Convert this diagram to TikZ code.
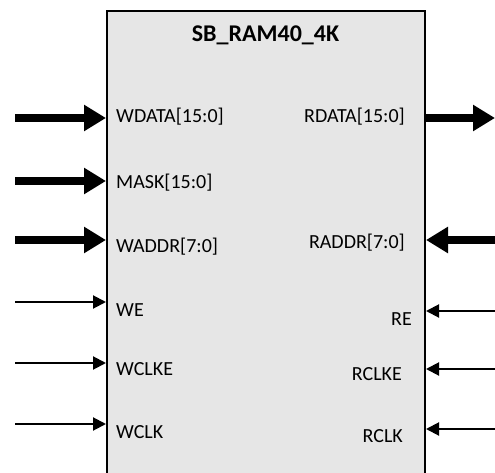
\documentclass[tikz,border=0pt]{standalone}
\usepackage{fontspec}
\setmainfont{Carlito}
\usetikzlibrary{arrows.meta}
\definecolor{boxfill}{RGB}{230,230,230}
\begin{document}
\begin{tikzpicture}[x=1pt,y=-1pt,
  bus/.style={line width=8pt,-{Triangle[length=22pt,width=25pt]}},
  sig/.style={line width=2pt,-{Triangle[length=13pt,width=13pt]}},
  lbl/.style={font=\fontsize{20}{22}\selectfont,inner sep=0pt},
  lpin/.style={lbl,anchor=base west},
  rpin/.style={lbl,anchor=base east}]
\useasboundingbox (0,0) rectangle (495,473);
\node[draw,line width=2pt,fill=boxfill,minimum width=318pt,minimum height=490pt,
      anchor=north west,inner sep=0pt] (box) at (106,10) {};
\node[font=\bfseries\fontsize{24}{26}\selectfont,anchor=base,inner sep=0pt] (title) at (265.5,42) {SB\_RAM40\_4K};
% left pins
\coordinate (wdataS) at (15,118);
\coordinate (maskS) at (15,181);
\coordinate (waddrS) at (15,240);
\coordinate (weS) at (15,302);
\coordinate (wclkeS) at (15,363);
\coordinate (wclkS) at (15,424);
\draw[bus] (wdataS) -- (wdataS -| box.west);
\draw[bus] (maskS) -- (maskS -| box.west);
\draw[bus] (waddrS) -- (waddrS -| box.west);
\draw[sig] (weS) -- (weS -| box.west);
\draw[sig] (wclkeS) -- (wclkeS -| box.west);
\draw[sig] (wclkS) -- (wclkS -| box.west);
% right pins
\coordinate (rdataE) at (495,118);
\coordinate (raddrS) at (495,240);
\coordinate (reS) at (495,311);
\coordinate (rclkeS) at (495,369);
\coordinate (rclkS) at (495,429);
\draw[bus] (rdataE -| box.east) -- (rdataE);
\draw[bus] (raddrS) -- (raddrS -| box.east);
\draw[sig] (reS) -- (reS -| box.east);
\draw[sig] (rclkeS) -- (rclkeS -| box.east);
\draw[sig] (rclkS) -- (rclkS -| box.east);
% labels
\node[lpin] (lwdata) at (116,123) {WDATA[15:0]};
\node[lpin] (lmask) at (116,189) {MASK[15:0]};
\node[lpin] (lwaddr) at (116,252) {WADDR[7:0]};
\node[lpin] (lwe) at (116,316) {WE};
\node[lpin] (lwclke) at (116,375) {WCLKE};
\node[lpin] (lwclk) at (116,438) {WCLK};
\node[rpin] (lrdata) at (405,123) {RDATA[15:0]};
\node[rpin] (lraddr) at (405,248) {RADDR[7:0]};
\node[rpin] (lre) at (412,325) {RE};
\node[rpin] (lrclke) at (402,380) {RCLKE};
\node[rpin] (lrclk) at (403,442) {RCLK};
\end{tikzpicture}
\end{document}
